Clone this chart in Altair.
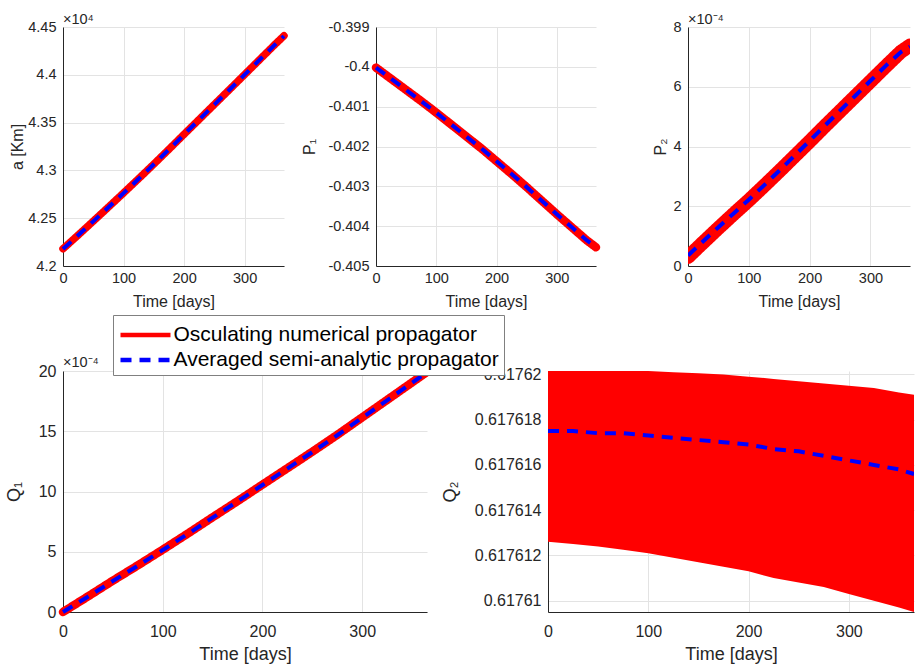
import altair as alt
import pandas as pd

OSC = "Osculating numerical propagator"
AVG = "Averaged semi-analytic propagator"

# time samples [days]
t = [0, 25, 50, 75, 100, 125, 150, 175, 200, 225, 250, 275, 300, 325, 350, 365]

# semi-major axis [km]
a_osc = [42180, 42323, 42469, 42616, 42764, 42914, 43066, 43221, 43378, 43534, 43690, 43846, 44003, 44160, 44317, 44408]
a_avg = [42178, 42321, 42467, 42614, 42762, 42912, 43064, 43219, 43376, 43532, 43688, 43844, 44001, 44158, 44315, 44405]

# P1
p1_osc = [-0.40002, -0.40030, -0.40058, -0.40086, -0.40115, -0.40145, -0.40175, -0.40205, -0.40237,
          -0.40269, -0.40302, -0.40336, -0.40370, -0.40403, -0.40436, -0.40453]
p1_avg = [-0.40002, -0.40030, -0.40058, -0.40086, -0.40115, -0.40145, -0.40175, -0.40205, -0.40237,
          -0.40269, -0.40302, -0.40336, -0.40370, -0.40403, -0.40436, -0.40452]

# P2
p2_osc = [0.30e-4, 0.79e-4, 1.27e-4, 1.74e-4, 2.20e-4, 2.68e-4, 3.17e-4, 3.67e-4, 4.17e-4,
          4.68e-4, 5.18e-4, 5.68e-4, 6.18e-4, 6.68e-4, 7.17e-4, 7.38e-4]
p2_avg = [0.35e-4, 0.83e-4, 1.30e-4, 1.76e-4, 2.22e-4, 2.70e-4, 3.19e-4, 3.69e-4, 4.19e-4,
          4.70e-4, 5.20e-4, 5.70e-4, 6.20e-4, 6.70e-4, 7.16e-4, 7.34e-4]

# Q1
q1_osc = [0.0, 1.29e-4, 2.60e-4, 3.87e-4, 5.17e-4, 6.50e-4, 7.86e-4, 9.20e-4, 10.57e-4,
          11.93e-4, 13.30e-4, 14.70e-4, 16.15e-4, 17.60e-4, 19.05e-4, 19.92e-4]
q1_avg = [0.0, 1.27e-4, 2.57e-4, 3.84e-4, 5.14e-4, 6.47e-4, 7.83e-4, 9.17e-4, 10.54e-4,
          11.90e-4, 13.27e-4, 14.67e-4, 16.12e-4, 17.57e-4, 19.02e-4, 19.90e-4]

# Q2: osculating envelope (low / high) and averaged
q2_osc_lo = [0.6176126, 0.6176125, 0.6176124, 0.61761225, 0.6176121, 0.6176119, 0.6176117, 0.6176115,
             0.6176113, 0.6176110, 0.6176108, 0.6176106, 0.6176103, 0.6176100, 0.6176097, 0.6176095]
q2_osc_hi = [0.6176202, 0.6176202, 0.6176202, 0.6176202, 0.61762015, 0.6176201, 0.61762005, 0.6176200,
             0.6176199, 0.6176198, 0.6176197, 0.6176196, 0.6176195, 0.6176194, 0.6176192, 0.6176191]
q2_avg = [0.6176175, 0.6176175, 0.6176174, 0.6176174, 0.6176173, 0.6176172, 0.6176171, 0.6176170,
          0.6176169, 0.6176167, 0.6176166, 0.6176164, 0.6176162, 0.6176160, 0.6176158, 0.6176156]

FONT = "Liberation Sans"
INK = "#262626"

LEG = alt.Legend(
    title=None, orient="none", legendX=50, legendY=288,
    symbolType="M-2,0H2", symbolSize=625, symbolStrokeWidth=4.5, symbolOffset=12.5,
    labelFontSize=21, labelFont=FONT, labelColor="#000000", labelLimit=1000, labelOffset=13,
    strokeColor="#808080", fillColor="#ffffff", padding=5, rowPadding=0,
)

color_enc = alt.Color("series:N", scale=alt.Scale(domain=[OSC, AVG], range=["#ff0000", "#0000ff"]), legend=LEG)
dash_enc = alt.StrokeDash("series:N", scale=alt.Scale(domain=[OSC, AVG], range=[[1, 0], [11, 8]]), legend=LEG)


def df_of(vals, name):
    return pd.DataFrame({"t": t, "v": vals, "series": [name] * len(t)})


def x_enc(big):
    return alt.X("t:Q", scale=alt.Scale(domain=[0, 365], nice=False),
                 axis=alt.Axis(values=[0, 100, 200, 300], title="Time [days]", format="d", labelFlush=False,
                               labelFontSize=16 if big else 14.5, titleFontSize=18 if big else 16,
                               labelPadding=11 if big else 5, titlePadding=6 if big else 9))


def y_axis(values, expr, title, tdist, h, big):
    return alt.Axis(values=values, labelExpr=expr, title=title, titleX=-tdist, titleY=h / 2,
                    titleBaseline="middle", titleAlign="center", titleAngle=270, labelFlush=False,
                    labelFontSize=16 if big else 14.5, titleFontSize=18 if big else 16,
                    labelPadding=7)


def exp_title(text, big):
    return alt.TitleParams(text, anchor="start", frame="group", offset=-8 if not big else -7,
                           fontSize=14.5, font=FONT, fontWeight="normal", color=INK)


def panel(osc, avg, domain, values, expr, title, tdist, w, h, red_w, big, etitle="", clip=False):
    yenc = alt.Y("v:Q", scale=alt.Scale(domain=domain, nice=False, zero=False),
                 axis=y_axis(values, expr, title, tdist, h, big))
    red = alt.Chart(df_of(osc, OSC)).mark_line(strokeWidth=red_w, strokeCap="round", strokeJoin="round",
                                               clip=clip).encode(
        x=x_enc(big), y=yenc, color=color_enc, strokeDash=dash_enc)
    blue = alt.Chart(df_of(avg, AVG)).mark_line(strokeWidth=4, clip=clip).encode(
        x=x_enc(big), y=yenc, color=color_enc, strokeDash=dash_enc)
    ch = alt.layer(red, blue).properties(width=w, height=h)
    if etitle:
        ch = ch.properties(title=exp_title(etitle, big))
    return ch


pa = panel(a_osc, a_avg, [42000, 44500], [42000, 42500, 43000, 43500, 44000, 44500],
           "format(datum.value / 10000, '.2~f')", "a [Km]", 46, 221, 239, 7.5, False, "×10⁴")
pp1 = panel(p1_osc, p1_avg, [-0.405, -0.399], [-0.405, -0.404, -0.403, -0.402, -0.401, -0.4, -0.399],
            "replace(format(datum.value, '.3~f'), '−', '-')", "P₁", 67, 220, 239, 8.5, False)
pp2 = panel(p2_osc, p2_avg, [0, 8e-4], [0, 2e-4, 4e-4, 6e-4, 8e-4],
            "format(datum.value * 10000, '.0f')", "P₂", 28, 222, 239, 14, False, "×10⁻⁴", clip=True)
pq1 = panel(q1_osc, q1_avg, [0, 20e-4], [0, 5e-4, 10e-4, 15e-4, 20e-4],
            "format(datum.value * 10000, '.0f')", "Q₁", 49, 364, 241, 8.5, True, "×10⁻⁴")

# Q2 panel: red envelope area + blue averaged line
q2_dom = [0.6176095, 0.61762015]
q2_vals = [0.61761, 0.617612, 0.617614, 0.617616, 0.617618, 0.61762]
q2_axis = y_axis(q2_vals, "format(datum.value, '.6~f')", "Q₂", 98, 241, True)
df_env = pd.DataFrame({"t": t, "lo": q2_osc_lo, "hi": q2_osc_hi})
env = alt.Chart(df_env).mark_area(color="#ff0000", opacity=1, clip=True).encode(
    x=x_enc(True),
    y=alt.Y("lo:Q", scale=alt.Scale(domain=q2_dom, nice=False, zero=False), axis=q2_axis),
    y2="hi:Q")
q2_line = alt.Chart(df_of(q2_avg, AVG)).mark_line(strokeWidth=4, clip=True).encode(
    x=x_enc(True),
    y=alt.Y("v:Q", scale=alt.Scale(domain=q2_dom, nice=False, zero=False), axis=q2_axis),
    color=color_enc, strokeDash=dash_enc)
pq2 = alt.layer(env, q2_line).properties(width=366, height=241)

top = alt.hconcat(pa, pp1, pp2, spacing=92, bounds="flush")
bottom = alt.hconcat(pq1, pq2, spacing=121, bounds="flush")

chart = alt.vconcat(top, bottom, spacing=344, bounds="flush").properties(
    padding={"left": 4, "top": 11, "right": 0, "bottom": 0}
).configure_view(stroke="transparent").configure_axis(
    domainColor=INK, domainWidth=1, gridColor="#e3e3e3", gridWidth=1, ticks=False,
    labelFont=FONT, titleFont=FONT, labelColor=INK, titleColor=INK, titleFontWeight="normal",
).configure_legend(labelFont=FONT)

chart.save("out.html", embed_options={"renderer": "svg", "actions": False})
